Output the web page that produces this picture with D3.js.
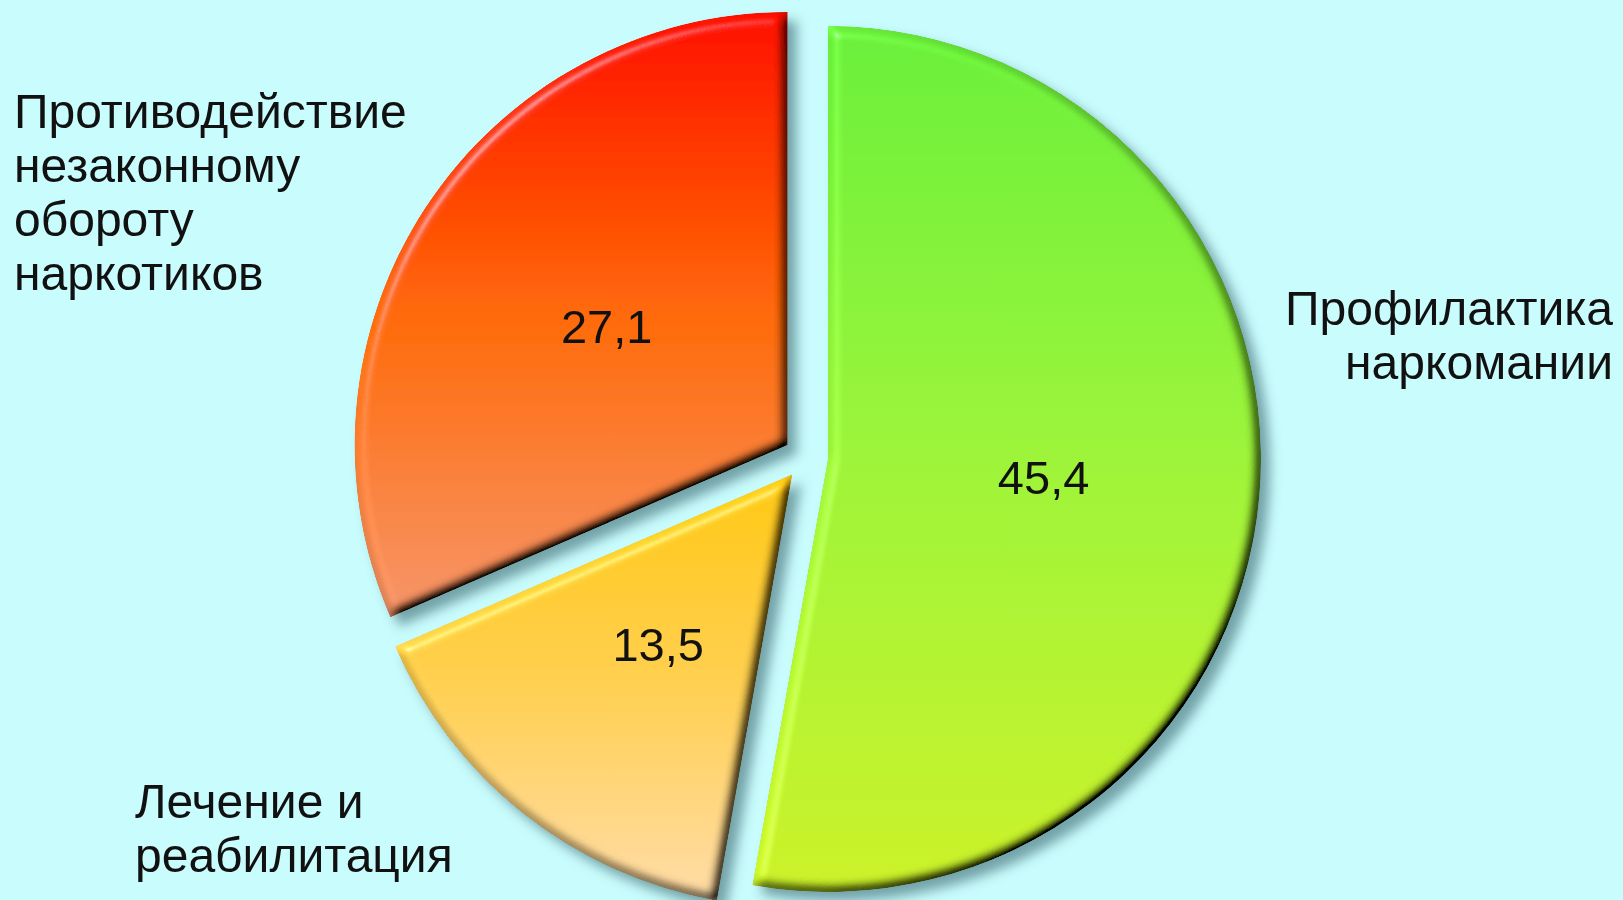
<!DOCTYPE html>
<html>
<head>
<meta charset="utf-8">
<script src="https://cdn.jsdelivr.net/npm/d3@7"></script>
<style>
    html, body { margin: 0; padding: 0; background: #c9fcfd; overflow: hidden; }
    text { font-family: 'Liberation Sans', Arial, sans-serif; fill: #111; }
</style>
</head>
<body>
<div id="chart"></div>
<script>
// data
var categories = ['Профилактика наркомании', 'Лечение и реабилитация', 'Противодействие незаконному обороту наркотиков']
var values = [45.4, 13.5, 27.1]
var valueLabels = ['45,4', '13,5', '27,1']
var labelLines = [['Профилактика', 'наркомании'], ['Лечение и', 'реабилитация'], ['Противодействие', 'незаконному', 'обороту', 'наркотиков']]

var size = ({width: 1623, height: 900})
var center = ({x: 806, y: 457})
var radius = 433
var explode = 22

// gradient stops per slice (top -> bottom)
var sliceColors = [
    ['#6af03a', '#9ef43a', '#ccf22a'],
    ['#ffc814', '#ffd052', '#ffdca8'],
    ['#ff1000', '#ff6a08', '#f6966a']
]

// outside label placement: [x, first baseline, anchor]
var labelPos = [[1613, 325, 'end'], [135, 818, 'start'], [14, 128, 'start']]
var lineStep = 54

const svg = d3.select('#chart')
    .append('svg')
    .attr('width', size.width)
    .attr('height', size.height)

const defs = svg.append('defs')

sliceColors.forEach((c, i) => {
    var g = defs.append('linearGradient')
        .attr('id', 'grad' + i)
        .attr('x1', 0).attr('y1', 0).attr('x2', 0).attr('y2', 1)
    g.append('stop').attr('offset', '0%').attr('stop-color', c[0])
    g.append('stop').attr('offset', '50%').attr('stop-color', c[1])
    g.append('stop').attr('offset', '100%').attr('stop-color', c[2])
})

// bevel + drop shadow
const filter = defs.append('filter')
    .attr('id', 'bevel')
    .attr('x', '-10%').attr('y', '-10%')
    .attr('width', '130%').attr('height', '130%')
filter.append('feGaussianBlur').attr('in', 'SourceAlpha').attr('stdDeviation', 6).attr('result', 'blur')
filter.append('feDiffuseLighting')
    .attr('in', 'blur').attr('surfaceScale', 11).attr('diffuseConstant', 1)
    .attr('lighting-color', '#ffffff').attr('result', 'light')
    .append('feDistantLight').attr('azimuth', 225).attr('elevation', 55)
filter.append('feComposite')
    .attr('in', 'SourceGraphic').attr('in2', 'light')
    .attr('operator', 'arithmetic')
    .attr('k1', 1.22).attr('k2', 0).attr('k3', 0).attr('k4', 0)
    .attr('result', 'lit')
filter.append('feSpecularLighting')
    .attr('in', 'blur').attr('surfaceScale', 11).attr('specularConstant', 0.6)
    .attr('specularExponent', 35).attr('lighting-color', '#ffffff').attr('result', 'spec')
    .append('feDistantLight').attr('azimuth', 225).attr('elevation', 30)
filter.append('feComposite').attr('in', 'spec').attr('in2', 'SourceAlpha').attr('operator', 'in').attr('result', 'specIn')
filter.append('feComposite')
    .attr('in', 'lit').attr('in2', 'specIn')
    .attr('operator', 'arithmetic')
    .attr('k1', 0).attr('k2', 1).attr('k3', 0.4).attr('k4', 0)
    .attr('result', 'lit2')
filter.append('feComposite').attr('in', 'lit2').attr('in2', 'SourceAlpha').attr('operator', 'in').attr('result', 'body')
filter.append('feGaussianBlur').attr('in', 'SourceAlpha').attr('stdDeviation', 6).attr('result', 'sblur')
filter.append('feOffset').attr('in', 'sblur').attr('dx', 9).attr('dy', 9).attr('result', 'soff')
filter.append('feFlood').attr('flood-color', '#3a6870').attr('flood-opacity', 0.6).attr('result', 'scol')
filter.append('feComposite').attr('in', 'scol').attr('in2', 'soff').attr('operator', 'in').attr('result', 'shadow')
const merge = filter.append('feMerge')
merge.append('feMergeNode').attr('in', 'shadow')
merge.append('feMergeNode').attr('in', 'body')

var pie = d3.pie().sort(null).value(d => d)
var arcs = pie(values)

var arc = d3.arc().innerRadius(0).outerRadius(radius)

function offset(d) {
    var a = (d.startAngle + d.endAngle) / 2
    return [Math.sin(a) * explode, -Math.cos(a) * explode]
}

const pieG = svg.append('g')
    .attr('transform', `translate(${center.x}, ${center.y})`)

pieG.append('g')
    .attr('filter', 'url(#bevel)')
    .selectAll('path')
    .data(arcs)
    .join('path')
        .attr('transform', d => `translate(${offset(d)})`)
        .attr('fill', (d, i) => `url(#grad${i})`)
        .attr('d', arc)

pieG.append('g')
    .selectAll('text')
    .data(arcs)
    .join('text')
        .attr('transform', d => {
            var o = offset(d), c = arc.centroid(d)
            return `translate(${c[0] + o[0]}, ${c[1] + o[1]})`
        })
        .attr('text-anchor', 'middle')
        .attr('dy', '0.35em')
        .style('font-size', '47px')
        .text((d, i) => valueLabels[i])

// category labels
labelLines.forEach((lines, i) => {
    var p = labelPos[i]
    var t = svg.append('text')
        .attr('text-anchor', p[2])
        .style('font-size', '48px')
    lines.forEach((l, j) => {
        t.append('tspan').attr('x', p[0]).attr('y', p[1] + j * lineStep).text(l)
    })
})
</script>
</body>
</html>
